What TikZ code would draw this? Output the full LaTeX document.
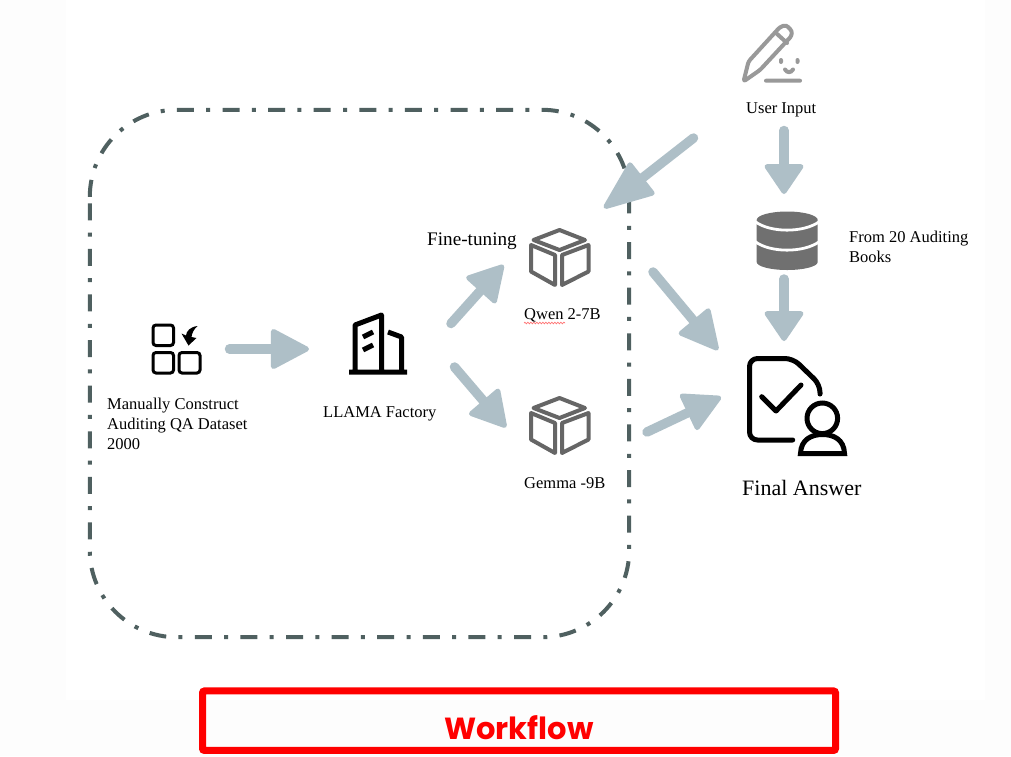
\documentclass[tikz,border=0pt]{standalone}
\usepackage{fontspec}
\setmainfont{Liberation Serif}
\newfontfamily\wffont{Poppins}
\usetikzlibrary{arrows.meta,decorations.pathmorphing}
\definecolor{arrowgray}{HTML}{AEBFC7}
\definecolor{boxgray}{HTML}{4F6060}
\definecolor{cubegray}{HTML}{666666}
\definecolor{pengray}{HTML}{999999}
\definecolor{dbgray}{HTML}{707070}
\definecolor{pagegray}{HTML}{FDFDFD}
\tikzset{
	flowarrow/.style={color=arrowgray, line width=9.5pt, line cap=round,
		-{Triangle[length=#1,width=42pt,line width=5pt,round]}},
	flowarrow/.default=38pt,
	iconspot/.style={inner sep=0pt, minimum size=#1},
	txt/.style={inner sep=0pt, anchor=base west, font=\fontsize{16.5}{20}\selectfont},
	cubeicon/.pic={
		\draw[cubegray, line width=4pt, line join=round]
			(0,-27) -- (25.5,-17) -- (0,-7) -- (-26,-17) -- cycle
			(-28.5,-12) -- (-28.5,14.5) -- (-4.5,28) -- (-4.5,-2) -- cycle
			(29,-12) -- (29,14.5) -- (2.5,28) -- (2.5,-2) -- cycle;
	}
}
\begin{document}
\begin{tikzpicture}[x=1pt, y=-1pt]
	\useasboundingbox (0,0) rectangle (1011,756);
	\fill[pagegray] (0,0) rectangle (1011,756);
	\fill[white] (66,0) rectangle (985,700);
	% dashed region
	\node[inner sep=0pt, minimum width=539pt, minimum height=527pt] (finebox) at (359.5,373.5) {};
	\draw[boxgray, line width=4pt, rounded corners=87pt,
		dash pattern=on 17pt off 12.3pt on 4pt off 12.3pt]
		([yshift=-87pt]finebox.north west) -- (finebox.north west) -- (finebox.north east)
		-- (finebox.south east) -- (finebox.south west) -- ([yshift=-87pt]finebox.north west);
	% icon places
	\node[iconspot=50pt] (dataset) at (176,349) {};
	\node[iconspot=58pt] (factory) at (378,345) {};
	\node[iconspot=60pt] (qwen) at (559.5,257) {};
	\node[iconspot=60pt] (gemma) at (559.5,425) {};
	\node[iconspot=60pt] (userinput) at (771,62) {};
	\node[iconspot=60pt] (database) at (787,241) {};
	\node[iconspot=100pt] (answer) at (798,406) {};
	% arrows
	\draw[flowarrow=41pt] ([shift={(53.5,0)}]dataset.center) -- ([shift={(-69,4)}]factory.center);
	\draw[flowarrow] ([shift={(73,-21.5)}]factory.center) -- ([shift={(-56,8)}]qwen.center);
	\draw[flowarrow] ([shift={(76.5,22)}]factory.center) -- ([shift={(-53.5,2.3)}]gemma.center);
	\draw[flowarrow=54pt] ([shift={(-77.5,76)}]userinput.center) -- ([shift={(244.5,-165.5)}]finebox.center);
	\draw[flowarrow=32pt] ([shift={(13,68.5)}]userinput.center) -- ([shift={(-3,-47)}]database.center);
	\draw[flowarrow=32pt] ([shift={(-3,38)}]database.center) -- ([shift={(-14,-65)}]answer.center);
	\draw[flowarrow=42pt] ([shift={(93.5,15)}]qwen.center) -- ([shift={(-80,-56)}]answer.center);
	\draw[flowarrow=40pt] ([shift={(87.5,7)}]gemma.center) -- ([shift={(-77,-9)}]answer.center);
	% dataset icon
	\draw[line width=3pt, rounded corners=3pt]
		(153,325) rectangle (173.5,345.5)
		(153,352.5) rectangle (173.5,373)
		(179,352.5) rectangle (200,373);
	\fill (197.5,326) .. controls (190,327) and (186.5,331) .. (186,335.5)
		-- (181.5,333.5) -- (188.5,345.5) -- (196.5,338) -- (191.5,337)
		.. controls (192,333) and (194,329) .. (197.5,326) -- cycle;
	% factory icon
	\draw[line width=5pt, line join=round]
		(349,372) -- (407,372)
		(355,372) -- (355,325) -- (381.5,315) -- (381.5,372)
		(388,332) -- (401.5,337) -- (401.5,372)
		(363,337) -- (373,332)
		(363,350) -- (373,345);
	% cubes
	\pic at (qwen.center) {cubeicon};
	\pic at (gemma.center) {cubeicon};
	% pencil
	\draw[pengray, line width=4pt, line join=round, line cap=round, rounded corners=2.5pt]
		(743.5,81.5) -- (748.5,61.5) -- (780,27) -- (786,25) -- (792,31) -- (791.5,36) -- (760,70) -- cycle;
	\draw[pengray, line width=4pt, line cap=round]
		(776,33) -- (787,43)
		(766,80.7) -- (800,80.7)
		(781,60) -- (781,62)
		(797.5,60) -- (797.5,62)
		(785,69.5) .. controls (787,73) and (791,73) .. (793,69.5);
	% database
	\fill[dbgray] (756.7,220) arc[x radius=30.5, y radius=8.5, start angle=180, end angle=360]
		-- (817.7,262) arc[x radius=30.5, y radius=8, start angle=0, end angle=180] -- cycle;
	\draw[white, line width=2.8pt]
		(755,221.5) .. controls (770,233) and (804,233) .. (819.5,221.5)
		(755,241.5) .. controls (770,253) and (804,253) .. (819.5,241.5);
	% answer icon
	\draw[line width=5pt, line cap=round, line join=round, rounded corners=8pt]
		(792.7,440) -- (749.5,440) -- (749.5,358.5) -- (793,358.5) -- (820,384.5) -- (820,394);
	\draw[line width=5pt, line cap=round, line join=round]
		(761.7,396.7) -- (776,411) -- (801,385);
	\draw[line width=5pt] (822.3,418.3) circle[radius=15.3pt];
	\draw[line width=5pt, line join=miter]
		(800.5,453.5) .. controls (801,439) and (812,434.5) .. (822.5,434.5)
		.. controls (833,434.5) and (844,439) .. (844.5,453.5) -- cycle;
	% labels
	\node[txt, align=left, anchor=north west] (datasetlabel) at (107,398) {Manually Construct\\Auditing QA Dataset\\2000};
	\node[txt] (factorylabel) at (323,417) {LLAMA Factory};
	\node[txt, font=\fontsize{19.2}{22}\selectfont] (finelabel) at (427,245) {Fine-tuning};
	\node[txt] (qwenlabel) at (524,319) {Qwen 2-7B};
	\node[txt] (gemmalabel) at (524,488) {Gemma -9B};
	\node[txt] (inputlabel) at (746,113.7) {User Input};
	\node[txt, align=left, anchor=north west] (booklabel) at (849,231) {From 20 Auditing\\Books};
	\node[txt, font=\fontsize{22}{26}\selectfont] (answerlabel) at (742,495) {Final Answer};
	\draw[red!55, line width=.7pt, decorate, decoration={snake, segment length=3pt, amplitude=.8pt}]
		([shift={(0,4)}]qwenlabel.base west) -- ([shift={(41,4)}]qwenlabel.base west);
	% title box
	\node[draw=red, line width=7pt, rounded corners=2pt, inner sep=0pt,
		minimum width=633pt, minimum height=59.5pt] (wfbox) at (519,720.7) {};
	\node[inner sep=0pt, anchor=base, red, font=\wffont\bfseries\fontsize{30.5}{36}\selectfont] (wftitle) at (519,739.5) {Workflow};
\end{tikzpicture}
\end{document}
